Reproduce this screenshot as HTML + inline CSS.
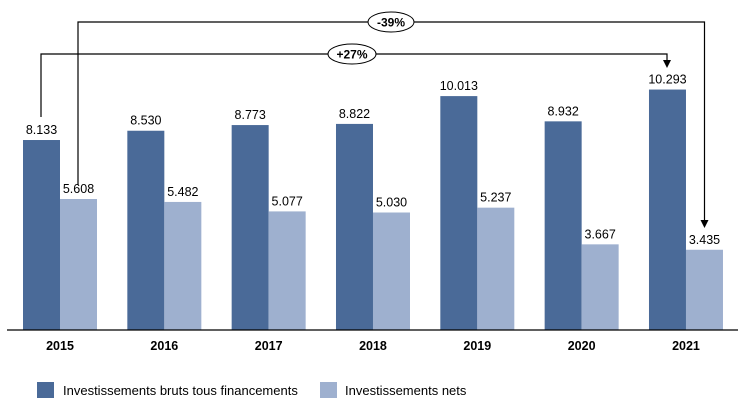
<!DOCTYPE html>
<html><head><meta charset="utf-8"><style>
body{margin:0;background:#fff}
svg{display:block;font-family:"Liberation Sans",sans-serif}
</style></head><body>
<svg width="748" height="406" viewBox="0 0 748 406">
<g id="bars"></g>
<line x1="7" y1="330" x2="738" y2="330" stroke="#000" stroke-width="1.3"/>
<g fill="none" stroke="#000" stroke-width="1.2">
<polyline points="78,185 78,22 704.5,22 704.5,222"/>
<polyline points="41,117 41,54 667,54 667,62"/>
</g>
<polygon points="700.5,220 708.5,220 704.5,228" fill="#000"/>
<polygon points="663,60 671,60 667,68" fill="#000"/>
<ellipse cx="391" cy="22" rx="23" ry="10" fill="#fff" stroke="#000"/>
<text x="391" y="26.5" text-anchor="middle" font-size="12" font-weight="bold">-39%</text>
<ellipse cx="352" cy="54" rx="24" ry="10" fill="#fff" stroke="#000"/>
<text x="352" y="58.5" text-anchor="middle" font-size="12" font-weight="bold">+27%</text>
<rect x="37" y="382" width="17" height="16" fill="#4a6a98"/>
<text x="63" y="395" font-size="13">Investissements bruts tous financements</text>
<rect x="320" y="382" width="17" height="16" fill="#9eb0cf"/>
<text x="345" y="395" font-size="13">Investissements nets</text>
</svg>
<script>
const years=["2015","2016","2017","2018","2019","2020","2021"];
const gross=[8.133,8.530,8.773,8.822,10.013,8.932,10.293];
const net=[5.608,5.482,5.077,5.030,5.237,3.667,3.435];
const grossLabels=["8.133","8.530","8.773","8.822","10.013","8.932","10.293"];
const netLabels=["5.608","5.482","5.077","5.030","5.237","3.667","3.435"];
const NS="http://www.w3.org/2000/svg";
const g=document.getElementById('bars');
const base=330, k=23.36, bw=37;
function xc(i){return 60+i*104.33;}
function y(v){return base-v*k;}
function mk(t,a){const e=document.createElementNS(NS,t);for(const n in a)e.setAttribute(n,a[n]);g.appendChild(e);return e;}
years.forEach((yr,i)=>{
  const c=xc(i);
  const b1=mk('rect',{x:c-bw,y:y(gross[i]),width:bw,height:gross[i]*k,fill:'#4a6a98'});
  
  
  const b2=mk('rect',{x:c,y:y(net[i]),width:bw,height:net[i]*k,fill:'#9eb0cf'});
  
  
  const t1=mk('text',{x:c-bw/2,y:y(gross[i])-6,'text-anchor':'middle','font-size':'12.5'});
  t1.textContent=grossLabels[i];
  
  
  const t2=mk('text',{x:c+bw/2,y:y(net[i])-6,'text-anchor':'middle','font-size':'12.5'});
  t2.textContent=netLabels[i];
  
  
  const t3=mk('text',{x:c,y:350,'text-anchor':'middle','font-size':'12.5','font-weight':'bold'});
  t3.textContent=yr;
  
  
});
</script>
</body></html>
